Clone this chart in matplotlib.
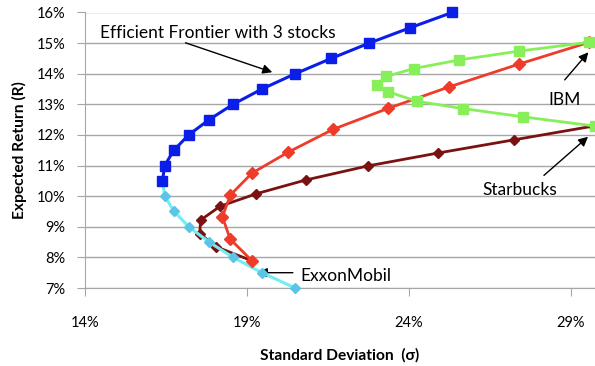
import matplotlib
matplotlib.use("Agg")
import matplotlib.pyplot as plt
from matplotlib.ticker import PercentFormatter

plt.rcParams['font.family'] = ['Lato', 'DejaVu Sans']

# Frontera eficiente con 3 acciones (parte superior y parte inferior)
frontier_sd = [16.39, 16.46, 16.74, 17.20, 17.83, 18.57, 19.46, 20.49, 21.60, 22.77, 24.03, 25.33]
frontier_ret = [10.5, 11.0, 11.5, 12.0, 12.5, 13.0, 13.5, 14.0, 14.5, 15.0, 15.5, 16.0]

lower_sd = [16.39, 16.46, 16.75, 17.20, 17.83, 18.57, 19.46, 20.49]
lower_ret = [10.5, 10.0, 9.5, 9.0, 8.5, 8.0, 7.5, 7.0]

# ExxonMobil + IBM
ibm_xom_sd = [19.15, 18.48, 18.24, 18.49, 19.15, 20.26, 21.65, 23.36, 25.24, 27.38, 29.57]
ibm_xom_ret = [7.89, 8.60, 9.33, 10.04, 10.75, 11.43, 12.18, 12.87, 13.57, 14.31, 15.03]

# ExxonMobil + Starbucks
sbux_xom_sd = [19.15, 18.04, 17.54, 17.57, 18.17, 19.29, 20.82, 22.74, 24.90, 27.24, 29.69]
sbux_xom_ret = [7.89, 8.35, 8.78, 9.22, 9.67, 10.08, 10.53, 10.99, 11.41, 11.84, 12.29]

# IBM + Starbucks
ibm_sbux_sd = [29.57, 27.40, 25.55, 24.15, 23.29, 23.02, 23.36, 24.24, 25.68, 27.53, 29.74]
ibm_sbux_ret = [15.03, 14.74, 14.45, 14.17, 13.91, 13.64, 13.41, 13.10, 12.86, 12.59, 12.29]

x_ticks = [14, 19, 24, 29]
y_ticks = [7, 8, 9, 10, 11, 12, 13, 14, 15, 16]

fig = plt.figure(figsize=(5.95, 3.66), dpi=100)
ax = fig.add_axes([85/595, 1-288/366, 1-85/595, (288-12.5)/366])

ax.plot(sbux_xom_sd, sbux_xom_ret, color='#7a1212', lw=2, marker='D', ms=5, zorder=3, clip_on=False)
ax.plot(lower_sd, lower_ret, color='#70eef4', lw=2.2, marker='D', ms=5.5,
        markerfacecolor='#5cc4e4', markeredgecolor='#5cc4e4', zorder=4, clip_on=False)
ax.plot(ibm_xom_sd, ibm_xom_ret, color='#ef3b2a', lw=2, marker='D', ms=6, zorder=5, clip_on=False)
ax.plot(ibm_sbux_sd, ibm_sbux_ret, color='#86ef5a', lw=2, marker='s', ms=7, zorder=6, clip_on=False)
ax.plot(frontier_sd, frontier_ret, color='#0a1ee8', lw=2.2, marker='s', ms=7.5, zorder=7, clip_on=False)

ax.set_xlim(14, 29.74)
ax.set_ylim(7, 16)
ax.set_xticks(x_ticks)
ax.set_yticks(y_ticks)
ax.xaxis.set_major_formatter(PercentFormatter(decimals=0))
ax.yaxis.set_major_formatter(PercentFormatter(decimals=0))
ax.grid(axis='y', color='#a6a6a6', lw=1)
ax.set_axisbelow(True)
for s in ['top', 'right']:
    ax.spines[s].set_visible(False)
for s in ['left', 'bottom']:
    ax.spines[s].set_color('#a6a6a6')
ax.tick_params(axis='both', colors='#a6a6a6', labelcolor='black', labelsize=10.5, length=6)
ax.tick_params(axis='x', pad=14)
ax.tick_params(axis='y', pad=8)

ax.set_xlabel('Standard Deviation  (σ)', fontsize=11.2, fontweight='bold', labelpad=13)
ax.set_ylabel('Expected Return (R)', fontsize=11.2, fontweight='bold', labelpad=7)

# Anotaciones
arrow = dict(arrowstyle='-|>', color='black', lw=1, mutation_scale=14)
ax.text(14.46, 15.33, 'Efficient Frontier with 3 stocks', fontsize=12.5, va='center', ha='left')
ax.annotate('', xy=(19.86, 14.02), xytext=(17.02, 15.04), arrowprops=arrow, annotation_clip=False)
ax.text(28.81, 13.15, 'IBM', fontsize=12.5, ha='center', va='center')
ax.annotate('', xy=(29.59, 14.77), xytext=(28.75, 13.73), arrowprops=arrow, annotation_clip=False)
ax.text(27.43, 10.2, 'Starbucks', fontsize=12.5, ha='center', va='center')
ax.annotate('', xy=(29.59, 12.0), xytext=(28.1, 10.62), arrowprops=arrow, annotation_clip=False)
ax.text(20.64, 7.4, 'ExxonMobil', fontsize=12.5, ha='left', va='center')
ax.annotate('', xy=(19.25, 7.5), xytext=(20.5, 7.5), arrowprops=arrow, annotation_clip=False)

fig.savefig('out.png', dpi=100)
